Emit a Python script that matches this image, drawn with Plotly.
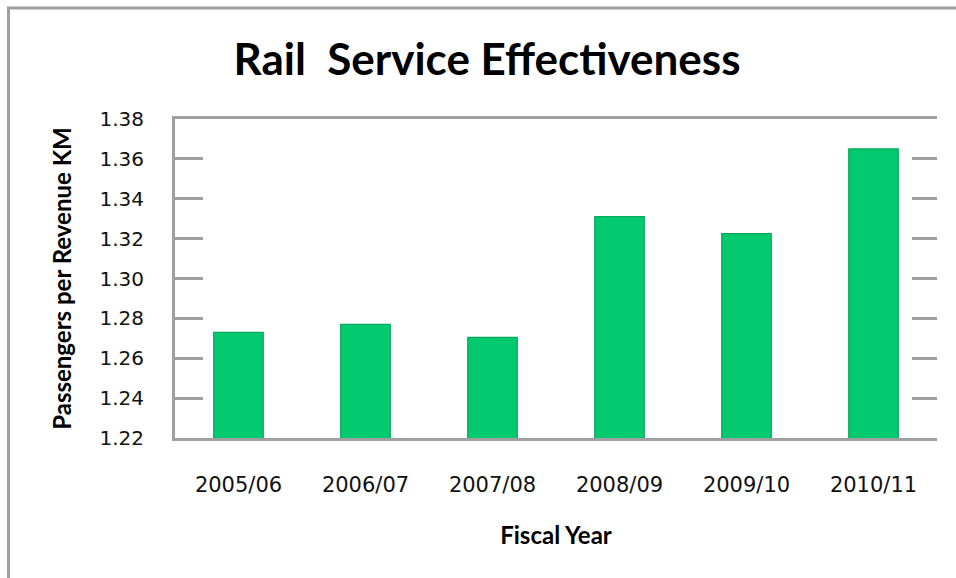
import plotly.graph_objects as go

years = ["2005/06", "2006/07", "2007/08", "2008/09", "2009/10", "2010/11"]
values = [1.273, 1.277, 1.2705, 1.331, 1.3225, 1.365]
y_ticks = [1.22, 1.24, 1.26, 1.28, 1.30, 1.32, 1.34, 1.36, 1.38]

W, H = 956, 578
L, R, T, B = 175, 937, 119, 438

fig = go.Figure()
fig.add_trace(go.Bar(
    x=years, y=values, width=0.39,
    marker=dict(color="#03C96F", line=dict(color="#06A85C", width=1.2)),
    showlegend=False,
))
# invisible trace to drive right-hand tick stubs
fig.add_trace(go.Scatter(x=years, y=values, yaxis="y2", mode="markers",
                         marker=dict(opacity=0), showlegend=False, hoverinfo="skip"))

ytickfont = dict(family="DejaVu Sans", size=20, color="#111111")
xtickfont = dict(family="DejaVu Sans", size=21, color="#111111")
fig.update_layout(
    width=W, height=H,
    margin=dict(l=L, r=W - R, t=T, b=H - B),
    paper_bgcolor="white", plot_bgcolor="white",
    title=dict(text="Rail  Service Effectiveness", x=487 / W, xanchor="center",
               y=1 - 60 / H, yanchor="middle",
               font=dict(family="Lato", size=44, color="black", weight="bold")),
    xaxis=dict(
        type="category", range=[-0.5, 5.5],
        showline=True, linecolor="#A0A0A0", linewidth=3, mirror=True,
        ticks="", tickfont=xtickfont, ticklabelstandoff=26,
        title=dict(text="<b>Fiscal Year</b>", font=dict(family="Lato", size=24, color="black"), standoff=31),
        showgrid=False,
    ),
    yaxis=dict(
        range=[1.22, 1.38], tickvals=y_ticks, ticktext=[f"{v:.2f}" for v in y_ticks],
        showline=True, linecolor="#A0A0A0", linewidth=3,
        ticks="inside", ticklen=28, tickwidth=3, tickcolor="#A0A0A0",
        tickfont=ytickfont, ticklabelstandoff=24,
        showgrid=False, zeroline=False,
        title=dict(text="<b>Passengers per Revenue KM</b>", font=dict(family="Lato", size=24, color="black"), standoff=22),
    ),
    yaxis2=dict(
        overlaying="y", side="right", matches="y", range=[1.22, 1.38], tickvals=y_ticks,
        showticklabels=False, ticks="inside", ticklen=25, tickwidth=3, tickcolor="#A0A0A0",
        showline=False, showgrid=False, zeroline=False,
    ),
    bargap=0.6,
)

# outer chart border (top and left edges, cropped otherwise)
pw, ph = R - L, B - T
def px_x(p):
    return (p - L) / pw
def px_y(p):
    return (B - p) / ph
fig.add_shape(type="line", xref="paper", yref="paper", x0=px_x(7), x1=px_x(W + 5),
              y0=px_y(8), y1=px_y(8), line=dict(color="#A0A0A0", width=3))
fig.add_shape(type="line", xref="paper", yref="paper", x0=px_x(8.5), x1=px_x(8.5),
              y0=px_y(7), y1=px_y(H + 5), line=dict(color="#A0A0A0", width=3))

fig.write_html("out.html")
